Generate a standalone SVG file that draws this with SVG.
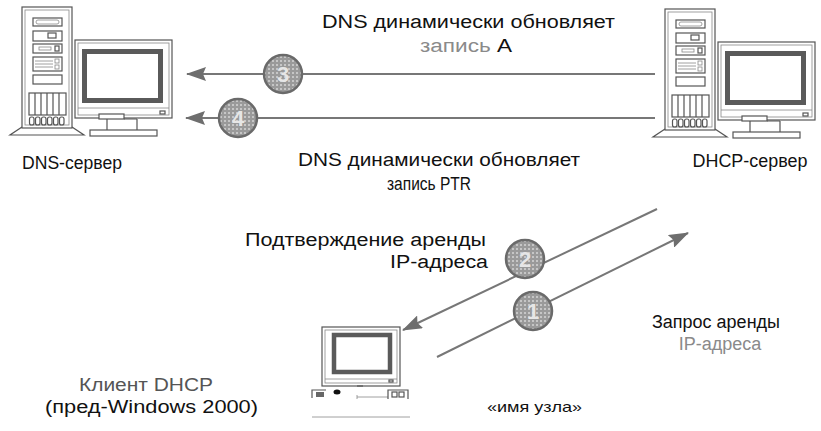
<svg xmlns="http://www.w3.org/2000/svg" xmlns:xlink="http://www.w3.org/1999/xlink" width="821" height="431" viewBox="0 0 821 431">
  <style>
    .lbl { font-family: "Liberation Sans", Arial, sans-serif; font-size: 18px; fill: #111; text-anchor: middle; }
    .dim { fill: #8a8a8a; }
    .ghost { fill: #555; }
    .small { font-size: 15px; }
    .ln { fill: none; stroke: #555; stroke-width: 1.2; }
    .thin { fill: none; stroke: #888; stroke-width: 0.8; }
    .box { fill: #fff; stroke: #555; stroke-width: 1.2; }
    .scr { fill: #fff; stroke: #5a5a5a; stroke-width: 5; }
    .conn { fill: none; stroke: #777; stroke-width: 2; }
    .step { fill: url(#stipple); stroke: #6a6a6a; stroke-width: 2.5; }
    .num { font-family: "Liberation Sans", Arial, sans-serif; font-size: 22px; font-weight: bold; fill: #e6e6e6; text-anchor: middle; }
  </style>
  <defs>
    <pattern id="stipple" width="4" height="4" patternUnits="userSpaceOnUse">
      <rect width="4" height="4" fill="#9a9a9a"/>
      <rect width="2" height="2" fill="#c6c6c6"/>
    </pattern>
    <marker id="head" viewBox="0 0 20 14" refX="19" refY="7" markerWidth="20" markerHeight="14" orient="auto" markerUnits="userSpaceOnUse">
      <path d="M0,0 L20,7 L0,14 L3,7 z" fill="#6e6e6e"/>
    </marker>
    <!-- tower server with monitor, drawn at the left position -->
    <g id="server-art">
      <!-- tower -->
      <path class="ln" d="M22,127 L10,135 L84,135 L72,127"/>
      <rect class="box" x="22" y="7" width="50" height="121"/>
      <rect class="thin" x="25" y="10" width="44" height="115"/>
      <rect class="ln" x="33" y="18" width="29" height="8"/>
      <rect class="thin" x="36" y="20" width="23" height="4" rx="2"/>
      <rect class="ln" x="33" y="31" width="29" height="10"/>
      <rect class="ln" x="48" y="33" width="8" height="5"/>
      <rect class="ln" x="33" y="44" width="29" height="9"/>
      <rect class="thin" x="39" y="47" width="12" height="3"/>
      <rect class="ln" x="55" y="46" width="4" height="5"/>
      <rect class="ln" x="33" y="57" width="29" height="14"/>
      <path class="thin" d="M35,61 H53 M35,64 H53 M35,67 H53"/>
      <rect class="thin" x="55" y="59" width="4" height="4"/>
      <rect class="thin" x="55" y="65" width="4" height="4"/>
      <rect class="ln" x="33" y="75" width="29" height="9"/>
      <rect class="ln" x="29" y="93" width="37" height="22"/>
      <path class="ln" d="M35,93 V115 M41,93 V115 M47,93 V115 M53,93 V115 M59,93 V115"/>
      <rect class="ln" x="29.5" y="117" width="4.5" height="8" rx="2"/>
      <rect class="ln" x="35.5" y="117" width="4.5" height="8" rx="2"/>
      <rect class="ln" x="41.5" y="117" width="4.5" height="8" rx="2"/>
      <rect class="ln" x="47.5" y="117" width="4.5" height="8" rx="2"/>
      <rect class="ln" x="53.5" y="117" width="4.5" height="8" rx="2"/>
      <rect class="ln" x="59.5" y="117" width="4.5" height="8" rx="2"/>
      <!-- monitor -->
      <rect class="box" x="75" y="40" width="97" height="78"/>
      <rect class="thin" x="78" y="43" width="91" height="72"/>
      <rect class="scr" x="84.5" y="51.5" width="76" height="49"/>
      <path class="thin" d="M78,108 H169"/>
      <rect class="ln" x="160" y="111" width="5" height="3"/>
      <rect class="box" x="99" y="114" width="25" height="5"/>
      <path class="ln" d="M107,119 L107,130 M137,119 L137,130 M124,119 H137"/>
      <rect class="box" x="90" y="130" width="67" height="6"/>
    </g>
  </defs>

  <rect width="821" height="431" fill="#fff"/>

  <!-- connectors -->
  <g id="connectors">
    <path id="c3" class="conn" d="M655,74 L187,74" marker-end="url(#head)"/>
    <path id="c4" class="conn" d="M655,118 L186,118" marker-end="url(#head)"/>
    <path id="c2" class="conn" d="M657,209 L403,330" marker-end="url(#head)"/>
    <path id="c1" class="conn" d="M437,357 L688,233" marker-end="url(#head)"/>
    <g id="step3"><circle class="step" cx="283" cy="74" r="19"/><text class="num" x="283" y="82">3</text></g>
    <g id="step4"><circle class="step" cx="238" cy="118" r="19"/><text class="num" x="238" y="126">4</text></g>
    <g id="step2"><circle class="step" cx="525" cy="259" r="19"/><text class="num" x="525" y="267">2</text></g>
    <g id="step1"><circle class="step" cx="533" cy="311" r="19"/><text class="num" x="533" y="319">1</text></g>
  </g>

  <!-- DNS server -->
  <g id="dns-server">
    <use xlink:href="#server-art"/>
    <text class="lbl" x="72" y="169" textLength="100" lengthAdjust="spacingAndGlyphs">DNS-сервер</text>
  </g>

  <!-- DHCP server -->
  <g id="dhcp-server">
    <use xlink:href="#server-art" transform="translate(643,2)"/>
    <text class="lbl" x="750" y="167" textLength="115" lengthAdjust="spacingAndGlyphs">DHCP-сервер</text>
  </g>

  <!-- DHCP client -->
  <g id="dhcp-client">
    <rect class="box" x="322" y="327" width="78" height="59"/>
    <rect class="thin" x="325" y="330" width="72" height="53"/>
    <rect class="scr" x="334" y="335" width="56" height="37" style="stroke-width:4.5"/>
    <path class="thin" d="M325,379 H397"/>
    <rect class="ln" x="389" y="380" width="4" height="2"/>
    <path class="ln" d="M357,386 H363"/>
    <path class="ln" d="M312,398 V390 H326"/>
    <rect x="316" y="392" width="8" height="5" fill="#666"/>
    <ellipse cx="337" cy="392" rx="3.5" ry="2.5" fill="#111"/>
    <path class="thin" d="M357,397 H388 M357,395 V399"/>
    <path class="ln" d="M388,399 V390 H408 V399"/>
    <rect class="ln" x="392" y="392" width="5" height="5"/>
    <rect class="ln" x="399" y="392" width="5" height="5"/>
    <path class="thin" d="M312,417 H410"/>
    <text class="lbl ghost" x="146" y="391" textLength="134" lengthAdjust="spacingAndGlyphs">Клиент DHCP</text>
    <text class="lbl" x="151.5" y="413" textLength="213" lengthAdjust="spacingAndGlyphs">(пред-Windows 2000)</text>
    <text class="lbl small" x="534.5" y="412" textLength="95" lengthAdjust="spacingAndGlyphs">«имя узла»</text>
  </g>

  <!-- connector labels -->
  <g id="labels">
    <text class="lbl" x="468.5" y="28" textLength="293" lengthAdjust="spacingAndGlyphs">DNS динамически обновляет</text>
    <text class="lbl" x="466" y="52" textLength="92" lengthAdjust="spacingAndGlyphs"><tspan class="dim">запись</tspan> А</text>
    <text class="lbl" x="439" y="166" textLength="282" lengthAdjust="spacingAndGlyphs">DNS динамически обновляет</text>
    <text class="lbl" x="429" y="190" textLength="84" lengthAdjust="spacingAndGlyphs">запись PTR</text>
    <text class="lbl" x="365.5" y="246" textLength="241" lengthAdjust="spacingAndGlyphs">Подтверждение аренды</text>
    <text class="lbl" x="439" y="268" textLength="98" lengthAdjust="spacingAndGlyphs">IP-адреса</text>
    <text class="lbl" x="716" y="328" textLength="128" lengthAdjust="spacingAndGlyphs">Запрос аренды</text>
    <text class="lbl dim" x="720" y="350">IP-адреса</text>
  </g>
</svg>
